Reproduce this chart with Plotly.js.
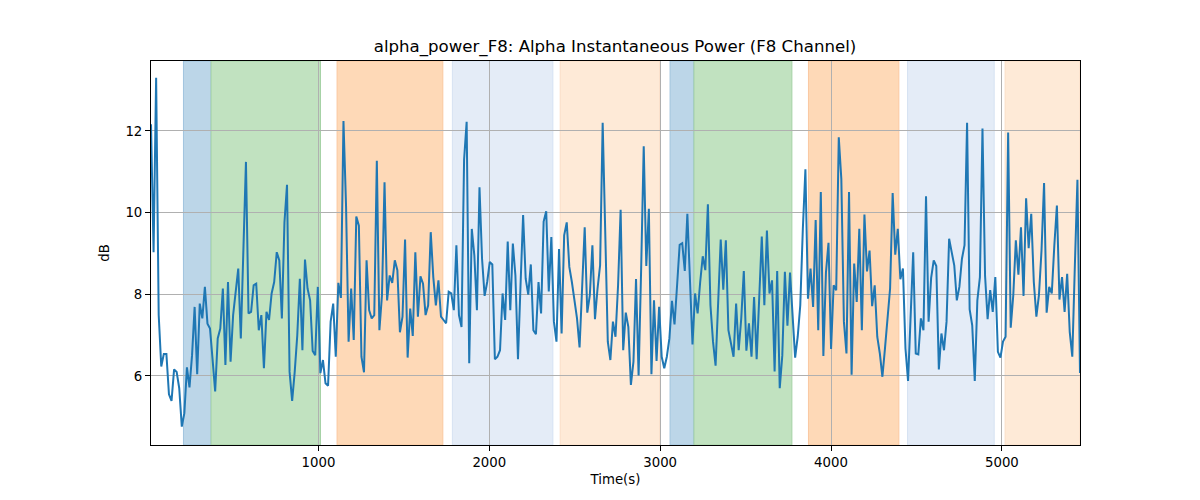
<!DOCTYPE html>
<html>
<head>
<meta charset="utf-8">
<script src="https://cdn.plot.ly/plotly-3.0.1.min.js"></script>
<style>
  html, body { margin: 0; padding: 0; background: #fff; }
  #chart { width: 1200px; height: 500px; }
</style>
</head>
<body>
<div id="chart"></div>
<script>
// alpha power samples (dB), one every ~15 s
const T0 = 20;
const DT = 15.02;
const alphaPower = [
  12.16, 9.03, 13.30, 7.49, 6.23, 6.54, 6.54, 5.55, 5.39, 6.16,
  6.10, 5.70, 4.76, 5.09, 6.21, 5.72, 6.51, 7.69, 6.04, 7.77,
  7.41, 8.18, 7.28, 7.16, 6.40, 5.62, 6.92, 7.16, 8.14, 6.27,
  8.30, 6.35, 7.49, 8.14, 8.63, 6.92, 9.08, 11.24, 7.53, 7.57,
  8.22, 8.26, 7.12, 7.49, 6.19, 7.57, 7.37, 8.02, 8.30, 9.03,
  8.83, 7.41, 9.76, 10.68, 6.10, 5.39, 6.10, 7.00, 8.38, 6.63,
  8.85, 8.14, 7.85, 6.61, 6.51, 8.18, 6.07, 6.39,
  5.82, 5.76, 7.33, 7.77, 6.47, 8.28, 7.91, 12.24, 10.17, 6.84,
  8.14, 6.88, 9.90, 9.68, 6.47, 6.09, 8.83, 7.61, 7.41, 7.49,
  11.27, 7.12, 7.98, 10.74, 7.85, 8.46, 8.28, 8.83, 8.59, 7.07,
  7.45, 9.34, 6.45, 7.65, 6.98, 9.03, 7.45, 8.44, 8.26, 7.49,
  7.73, 9.52, 8.42, 7.73, 8.34, 7.45, 7.37, 7.29, 8.06, 8.02,
  7.61, 9.20, 7.49, 7.20, 11.30,
  12.22, 6.31, 9.60, 8.95, 7.61, 10.62, 8.87, 7.96, 8.30, 8.79,
  8.73, 6.41, 6.47, 6.63, 8.02, 7.37, 9.29, 7.61, 9.24, 8.46,
  6.41, 8.24, 9.94, 8.38, 7.99, 8.73, 7.12, 7.02, 8.30, 7.53,
  9.78, 10.03, 8.07, 9.40, 7.33, 6.84, 9.11, 7.04, 9.44, 9.76,
  8.67, 8.30, 7.89, 7.41, 6.70, 8.14, 9.64, 7.55, 7.98, 9.20,
  7.39, 8.14, 8.71, 12.20, 9.44, 6.84, 6.39, 7.33, 6.96, 8.22,
  10.07, 6.63,
  7.55, 7.20, 5.78, 6.35, 8.37, 6.01, 8.63, 11.62, 8.69, 10.09,
  6.04, 7.85, 6.37, 7.69, 6.47, 6.19, 6.47, 6.92, 7.84, 7.26,
  8.22, 9.21, 9.25, 8.57, 9.97, 8.46, 6.77, 8.02, 7.53, 8.30,
  8.93, 8.59, 10.20, 7.73, 6.84, 6.25, 7.77, 9.34, 8.11, 9.32,
  7.12, 6.76, 6.47, 7.77, 6.63, 7.41, 8.57, 6.62, 7.29, 6.47,
  7.93, 6.41, 7.98, 9.41, 7.73, 9.56, 8.02, 8.34, 6.11,
  8.57, 5.70, 6.51, 8.55, 7.23, 8.53, 7.41, 6.45, 6.96, 7.73,
  9.60, 11.06, 7.89, 8.63, 7.69, 9.82, 7.12, 10.50, 6.49, 8.53,
  9.26, 6.66, 8.22, 8.10, 11.84, 10.82, 7.33, 6.55, 10.50, 6.03,
  8.75, 7.81, 9.60, 7.12, 9.95, 8.56, 9.07, 7.71, 8.22, 6.96,
  6.55, 5.98, 6.67, 7.41, 8.14, 10.48, 8.97, 9.60, 8.37, 8.63,
  6.67, 5.88, 7.33, 9.03, 6.55, 6.53, 7.41, 7.12,
  10.40, 7.33, 8.40, 8.83, 8.69, 6.16, 7.04, 6.63, 7.33, 9.36,
  9.03, 8.71, 7.85, 8.18, 8.87, 9.20, 12.20, 7.63, 7.24, 5.88,
  7.85, 8.42, 12.06, 8.46, 7.39, 8.10, 7.57, 8.42, 6.59, 6.45,
  6.84, 6.96, 11.96, 7.18, 7.98, 9.32, 8.48, 9.64, 7.96, 10.35,
  9.13, 9.97, 8.30, 7.45, 7.98, 9.07, 10.72, 7.55, 8.18, 8.02,
  9.20, 10.17, 7.87, 8.42, 7.57, 8.50, 7.08, 6.47, 8.71, 10.80,
  6.07
];

// shaded task periods (s)
const spanStart = [210, 372, 1109, 1784, 2415, 3058, 3198, 3868, 4448, 5019];
const spanEnd   = [370, 1012, 1728, 2372, 2997, 3195, 3771, 4397, 4955, 5457];
const spanKind  = ['a', 'b', 'c', 'd', 'e', 'a', 'b', 'c', 'd', 'e'];

const spanFill = {
    a: 'rgb(188,214,232)',
    b: 'rgb(193,226,192)',
    c: 'rgb(254,217,183)',
    d: 'rgb(228,236,247)',
    e: 'rgb(254,234,215)'
};
const spanEdge = {
    a: 'rgb(160,196,222)',
    b: 'rgb(165,210,165)',
    c: 'rgb(250,200,160)',
    d: 'rgb(214,226,242)',
    e: 'rgb(250,222,198)'
};

const time = alphaPower.map((_, i) => T0 + i * DT);
const Y_RANGE = [4.31, 13.71];

var shapes = spanStart.map(function(s, i){
    return {
        type: 'rect',
        xref: 'x', yref: 'y',
        x0: s, x1: spanEnd[i],
        y0: Y_RANGE[0], y1: Y_RANGE[1],
        fillcolor: spanFill[spanKind[i]],
        line: { color: spanEdge[spanKind[i]], width: 1 },
        layer: 'below'
    };
});

var trace = {
    x: time,
    y: alphaPower,
    type: 'scatter',
    mode: 'lines',
    line: { color: '#1f77b4', width: 2 },
    hoverinfo: 'x+y'
};

var font = { family: 'DejaVu Sans, sans-serif', size: 13.3, color: '#000' };

var layout = {
    width: 1200,
    height: 500,
    margin: { l: 151, r: 120, t: 61, b: 55 },
    paper_bgcolor: '#ffffff',
    plot_bgcolor: '#ffffff',
    font: font,
    showlegend: false,
    title: {
        text: 'alpha_power_F8: Alpha Instantaneous Power (F8 Channel)',
        font: { family: 'DejaVu Sans, sans-serif', size: 16.6, color: '#000' },
        x: 0.5125, xanchor: 'center',
        y: 0.908, yanchor: 'middle', yref: 'container'
    },
    xaxis: {
        range: [T0, T0 + (alphaPower.length - 1) * DT],
        tickvals: [1000, 2000, 3000, 4000, 5000],
        ticks: 'outside', ticklen: 5, tickwidth: 1, tickcolor: '#000',
        showline: true, mirror: true, linecolor: '#000', linewidth: 1,
        showgrid: true, gridcolor: '#b0b0b0', gridwidth: 1,
        zeroline: false,
        tickfont: font,
        title: { text: 'Time(s)', font: font, standoff: 5 }
    },
    yaxis: {
        range: Y_RANGE,
        tickvals: [6, 8, 10, 12],
        ticks: 'outside', ticklen: 5, tickwidth: 1, tickcolor: '#000',
        showline: true, mirror: true, linecolor: '#000', linewidth: 1,
        showgrid: true, gridcolor: '#b0b0b0', gridwidth: 1,
        zeroline: false,
        tickfont: font,
        title: { text: 'dB', font: font, standoff: 12 }
    },
    shapes: shapes
};

Plotly.newPlot('chart', [trace], layout, { staticPlot: true });
</script>
</body>
</html>
